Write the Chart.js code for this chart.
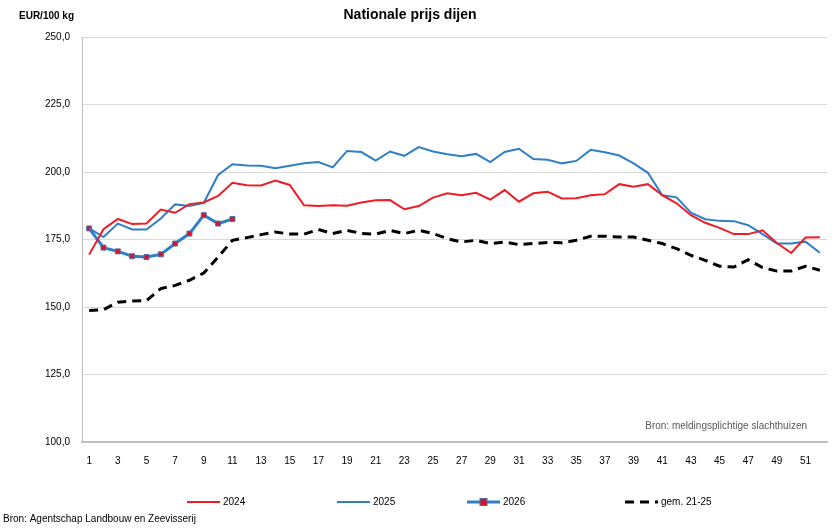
<!DOCTYPE html>
<html>
<head>
<meta charset="utf-8">
<script src="https://cdn.jsdelivr.net/npm/chart.js@4/dist/chart.umd.min.js"></script>
<style>
  html, body { margin: 0; padding: 0; background: #fff; }
  #wrap { width: 839px; height: 529px; position: relative; }
</style>
</head>
<body>
<div id="wrap"><canvas id="chart" width="839" height="529"></canvas></div>
<script>
const weeks = Array.from({length: 52}, (_, i) => String(i + 1));

const prijs2024 = [169.4, 178.8, 182.6, 180.7, 180.9, 186.1, 184.9, 188.1, 188.7, 191.1,
  196.0, 195.1, 195.0, 196.8, 195.2, 187.7, 187.4, 187.7, 187.5, 188.7,
  189.5, 189.6, 186.2, 187.4, 190.5, 192.1, 191.4, 192.3, 189.8, 193.3,
  189.0, 192.1, 192.7, 190.2, 190.3, 191.4, 191.8, 195.5, 194.5, 195.5,
  191.4, 188.4, 184.0, 181.2, 179.3, 177.0, 177.0, 178.4, 173.7, 170.0,
  175.7, 175.8];

const prijs2025 = [179.1, 175.9, 180.9, 178.7, 178.7, 182.8, 188.0, 187.4, 188.6, 198.9,
  202.9, 202.4, 202.3, 201.4, 202.3, 203.2, 203.7, 201.7, 207.8, 207.4,
  204.2, 207.6, 206.0, 209.2, 207.6, 206.6, 205.8, 206.7, 203.7, 207.4,
  208.6, 204.8, 204.5, 203.2, 204.1, 208.2, 207.3, 206.1, 203.2, 199.7,
  191.4, 190.6, 184.9, 182.5, 181.9, 181.8, 180.3, 177.0, 173.5, 173.5,
  174.2, 170.1];

const prijs2026 = [179.1, 172.0, 170.6, 168.8, 168.5, 169.5, 173.5, 177.2, 184.0, 180.9,
  182.6];

const gem2125 = [148.7, 149.0, 151.8, 152.2, 152.4, 156.8, 158.0, 159.9, 162.6, 168.5,
  174.7, 175.7, 176.8, 177.8, 177.0, 177.0, 178.7, 177.2, 178.4, 177.2,
  177.0, 178.4, 177.2, 178.4, 177.2, 175.3, 174.1, 174.7, 173.5, 174.1,
  173.1, 173.5, 173.9, 173.8, 174.7, 176.2, 176.2, 175.9, 175.9, 174.7,
  173.5, 171.6, 169.1, 167.3, 165.1, 164.8, 167.5, 164.6, 163.3, 163.3,
  165.1, 163.6];

const seriesLabels = ['2024', '2025', '2026', 'gem. 21-25'];

const textFont = '"Liberation Sans", Arial, sans-serif';

// titles, source notes and the spread-out legend
const annotations = {
  id: 'annotations',
  afterDraw(chart) {
    const ctx = chart.ctx;
    const area = chart.chartArea;
    ctx.save();
    ctx.fillStyle = '#000';
    ctx.textBaseline = 'middle';

    ctx.font = 'bold 14px ' + textFont;
    ctx.textAlign = 'center';
    ctx.fillText('Nationale prijs dijen', 410, 15);

    ctx.font = 'bold 10px ' + textFont;
    ctx.textAlign = 'left';
    ctx.fillText('EUR/100 kg', 19, 16);

    ctx.font = '10px ' + textFont;
    ctx.fillStyle = '#595959';
    ctx.textAlign = 'right';
    ctx.fillText('Bron: meldingsplichtige slachthuizen', area.right - 20, area.bottom - 16);

    ctx.fillStyle = '#000';
    ctx.textAlign = 'left';
    ctx.fillText('Bron: Agentschap Landbouw en Zeevisserij', 3, 519);

    // legend
    const legendX = [187, 337, 467, 625];
    const legendY = 502;
    chart.data.datasets.forEach((ds, i) => {
      const x0 = legendX[i];
      ctx.strokeStyle = ds.borderColor;
      ctx.lineWidth = ds.borderWidth;
      ctx.setLineDash(ds.borderDash || []);
      ctx.beginPath();
      ctx.moveTo(x0, legendY);
      ctx.lineTo(x0 + 33, legendY);
      ctx.stroke();
      ctx.setLineDash([]);
      if (ds.pointRadius > 0) {
        const r = ds.pointRadius;
        ctx.fillStyle = ds.pointBackgroundColor;
        ctx.strokeStyle = ds.pointBorderColor;
        ctx.lineWidth = 1;
        ctx.fillRect(x0 + 16.5 - r, legendY - r, 2 * r, 2 * r);
        ctx.strokeRect(x0 + 16.5 - r, legendY - r, 2 * r, 2 * r);
      }
      ctx.fillStyle = '#000';
      ctx.font = '10px ' + textFont;
      ctx.fillText(ds.label, x0 + 36, legendY);
    });
    ctx.restore();
  }
};

const canvas = document.getElementById('chart');

const chart = new Chart(canvas, {
  type: 'line',
  data: {
    labels: weeks,
    datasets: [
      {
        label: seriesLabels[0],
        data: prijs2024,
        borderColor: '#ee1c25',
        borderWidth: 2,
        pointRadius: 0,
        tension: 0,
      },
      {
        label: seriesLabels[1],
        data: prijs2025,
        borderColor: '#2e7fc6',
        borderWidth: 2,
        pointRadius: 0,
        tension: 0,
      },
      {
        label: seriesLabels[2],
        data: prijs2026,
        borderColor: '#2e7fc6',
        borderWidth: 3,
        pointStyle: 'rect',
        pointRadius: 3.5,
        pointBackgroundColor: '#d8132b',
        pointBorderColor: '#4f6fa8',
        pointBorderWidth: 1,
        tension: 0,
      },
      {
        label: seriesLabels[3],
        data: gem2125,
        borderColor: '#000000',
        borderWidth: 3,
        borderDash: [9, 6],
        pointRadius: 0,
        tension: 0,
      }
    ]
  },
  options: {
    responsive: false,
    animation: false,
    layout: {
      padding: {top: 37, right: 12, left: 0, bottom: 0}
    },
    plugins: {
      legend: {display: false},
      tooltip: {enabled: false},
      title: {display: false}
    },
    scales: {
      x: {
        offset: true,
        grid: {display: false, drawTicks: false},
        border: {color: '#bfbfbf', width: 2},
        afterFit(scale) { scale.height = 87; },
        ticks: {
          autoSkip: false,
          maxRotation: 0,
          padding: 13,
          color: '#000',
          font: {family: textFont, size: 10},
          callback(value, index) {
            return index % 2 === 0 ? this.getLabelForValue(value) : '';
          }
        }
      },
      y: {
        min: 100,
        max: 250,
        grid: {color: '#d9d9d9', lineWidth: 1, drawTicks: false},
        border: {color: '#bfbfbf', width: 1},
        afterFit(scale) { scale.width = 82; },
        ticks: {
          stepSize: 25,
          padding: 12,
          color: '#000',
          font: {family: textFont, size: 10},
          callback(value) { return value.toFixed(1).replace('.', ','); }
        }
      }
    }
  },
  plugins: [annotations]
});
</script>
</body>
</html>
